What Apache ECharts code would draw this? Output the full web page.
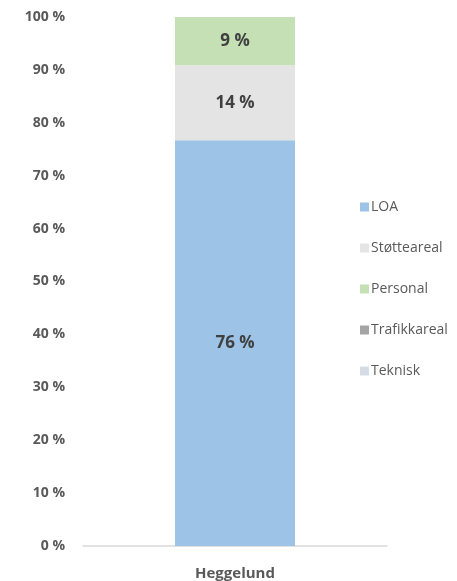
<!DOCTYPE html>
<html>
<head>
<meta charset="utf-8">
<script src="https://cdn.jsdelivr.net/npm/echarts@6/dist/echarts.min.js"></script>
<style>
  html, body { margin: 0; padding: 0; background: #fff; }
  #chart { width: 457px; height: 581px; }
</style>
</head>
<body>
<div id="chart"></div>
<script>
// data
const categories = ['Heggelund']
const seriesNames = ['LOA', 'Støtteareal', 'Personal', 'Trafikkareal', 'Teknisk']
const loa = [76.7]
const stotteareal = [14.2]
const personal = [9.1]
const trafikkareal = [0]
const teknisk = [0]
const shownLabels = ['76 %', '14 %', '9 %', '', '']
const colors = ['#9dc3e6', '#e4e4e4', '#c5e0b4', '#a5a5a5', '#d6dce5']

const values = [loa, stotteareal, personal, trafikkareal, teknisk]

const chart = echarts.init(document.getElementById('chart'))

chart.setOption({
  animation: false,
  textStyle: { fontFamily: 'Open Sans' },
  grid: { left: 83, right: 70, top: 17, bottom: 35 },
  legend: {
    orient: 'vertical',
    left: 355,
    top: 195,
    itemWidth: 9,
    itemHeight: 9,
    itemGap: 27,
    icon: 'rect',
    textStyle: { color: '#595959', fontSize: 14, padding: [0, 0, 0, -3] },
    data: seriesNames
  },
  xAxis: {
    type: 'category',
    data: categories,
    axisLine: { lineStyle: { color: '#d9d9d9', width: 1.5 } },
    axisTick: { show: false },
    axisLabel: { color: '#595959', fontSize: 15, fontWeight: 'bold', margin: 20 }
  },
  yAxis: {
    type: 'value',
    min: 0,
    max: 100,
    interval: 10,
    splitLine: { show: false },
    axisLine: { show: false },
    axisTick: { show: false },
    axisLabel: {
      color: '#595959',
      fontSize: 14,
      fontWeight: 'bold',
      margin: 18,
      formatter: '{value} %'
    }
  },
  series: seriesNames.map((name, i) => ({
    name: name,
    type: 'bar',
    stack: 'total',
    barWidth: 120,
    data: values[i],
    itemStyle: { color: colors[i] },
    label: {
      show: shownLabels[i] !== '',
      position: 'inside',
      formatter: () => shownLabels[i],
      color: '#404040',
      fontSize: 17,
      fontWeight: 'bold'
    }
  }))
})
</script>
</body>
</html>
